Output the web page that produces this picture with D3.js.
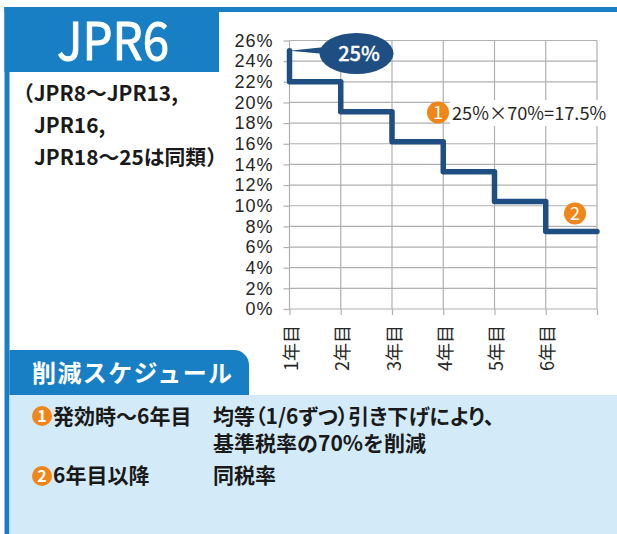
<!DOCTYPE html>
<html>
<head>
<meta charset="utf-8">
<script src="https://cdn.jsdelivr.net/npm/d3@7"></script>
<style>
body { margin: 0; background: #fff; }
svg { display: block; font-family: "Noto Sans CJK JP", sans-serif; }
</style>
</head>
<body>
<svg class="chart"></svg>
<script>
var yearLabels = ["1年目", "2年目", "3年目", "4年目", "5年目", "6年目", ""]
var startRate = 25
var yearRates = [22, 19.1, 16.2, 13.3, 10.4, 7.5]
var yTicks = [0, 2, 4, 6, 8, 10, 12, 14, 16, 18, 20, 22, 24, 26]
var subtitleLines = ["（JPR8～JPR13,", "JPR16,", "JPR18～25は同類）"]
var scheduleFirst = ["均等（1/6ずつ）引き下げにより、", "基準税率の70%を削減"]

var width = 617,
    height = 534,
    margin = { top: 40.5, right: 20, bottom: 225, left: 289.5 }
var blue = "#187FC4", navy = "#1F4E82", orange = "#F08519", pale = "#D3EBF9", grid = "#B0B0B0"

var svg = d3.select(".chart")
    .attr("width", width)
    .attr("height", height)

// frame and panels
svg.append("rect").attr("x", 4.5).attr("y", 7).attr("width", width - 4.5).attr("height", 5).attr("fill", blue)
svg.append("rect").attr("x", 4.5).attr("y", 7).attr("width", 5).attr("height", height - 7).attr("fill", blue)
svg.append("rect").attr("x", 4.5).attr("y", 7).attr("width", 214.5).attr("height", 65).attr("fill", blue)
svg.append("rect").attr("x", 9.5).attr("y", 395).attr("width", width - 9.5).attr("height", 139).attr("fill", pale)
svg.append("path").attr("d", "M9.5,395V350H234a15,15 0 0 1 15,15V395Z").attr("fill", blue)

svg.append("text").attr("x", 57).attr("y", 60)
    .attr("font-size", 52).attr("textLength", 112).attr("lengthAdjust", "spacingAndGlyphs")
    .attr("fill", "#fff").attr("stroke", "#fff").attr("stroke-width", 1).text("JPR6")

svg.append("g").selectAll("text").data(subtitleLines).join("text")
    .attr("x", (d, i) => i ? 34 : 13)
    .attr("y", (d, i) => 101 + i * 32)
    .attr("font-size", 20.8).attr("font-weight", 700).attr("fill", "#1a1a1a")
    .text(d => d)

// scales
var xScale = d3.scalePoint()
    .domain(d3.range(yearLabels.length))
    .range([margin.left, width - margin.right])
var yScale = d3.scaleLinear()
    .domain([0, 26])
    .range([height - margin.bottom, margin.top])

var yAxisCall = d3.axisLeft(yScale).tickValues(yTicks).tickFormat(d => d + "%")
    .tickSize(6).tickPadding(10)
var xAxisCall = d3.axisBottom(xScale).tickFormat(i => yearLabels[i]).tickSize(6)

var chart = svg.append("g")

chart.append("g").attr("class", "x grid").selectAll("line")
    .data(xScale.domain()).join("line")
    .attr("x1", d => xScale(d)).attr("x2", d => xScale(d))
    .attr("y1", yScale(26)).attr("y2", yScale(0))
    .attr("stroke", grid).attr("stroke-width", 1.2)

chart.append("g").attr("class", "y grid").selectAll("line")
    .data(yTicks).join("line")
    .attr("x1", xScale(0)).attr("x2", xScale(6))
    .attr("y1", d => yScale(d)).attr("y2", d => yScale(d))
    .attr("stroke", grid).attr("stroke-width", 1.2)

chart.append("g")
    .attr("transform", `translate(${margin.left},0)`)
    .call(yAxisCall)
    .call(g => g.select(".domain").remove())
    .call(g => g.selectAll("line").attr("stroke", grid).attr("stroke-width", 1.2))
    .call(g => g.selectAll("text").attr("font-family", "'Liberation Sans'").attr("font-size", 18)
        .attr("letter-spacing", 1).attr("fill", "#262626"))

chart.append("g")
    .attr("transform", `translate(0,${yScale(0)})`)
    .call(xAxisCall)
    .call(g => g.select(".domain").remove())
    .call(g => g.selectAll("line").attr("stroke", grid).attr("stroke-width", 1.2))
    .call(g => g.selectAll("text")
        .attr("font-family", "'Noto Sans CJK JP'").attr("font-size", 18).attr("fill", "#262626")
        .attr("text-anchor", "end").attr("dy", 0).attr("y", 0)
        .attr("transform", "translate(0,16) rotate(-90)")
        .attr("dominant-baseline", "central"))

// stepped rate line
var linePoints = [[0, startRate]]
yearRates.forEach((v, i) => {
    linePoints.push([i, v], [i + 1, v])
})
var line = d3.line().x(d => xScale(d[0])).y(d => yScale(d[1]))
chart.append("path")
    .attr("d", line(linePoints))
    .attr("fill", "none").attr("stroke", navy).attr("stroke-width", 5.5)
    .attr("stroke-linejoin", "round").attr("stroke-linecap", "round")

// callout at the starting rate
var tipX = xScale(0), tipY = yScale(startRate)
var callout = chart.append("g")
callout.append("ellipse").attr("cx", 356.5).attr("cy", 53.5).attr("rx", 37).attr("ry", 20.5).attr("fill", navy)
callout.append("path").attr("d", `M${tipX},${tipY}L325,47L325,54Z`).attr("fill", navy)
callout.append("text").attr("x", 359).attr("y", 61).attr("text-anchor", "middle")
    .attr("font-size", 20).attr("font-weight", 500).attr("stroke", "#fff").attr("stroke-width", 0.3)
    .attr("fill", "#fff").text(startRate + "%")

// numbered badges
function badge(x, y, r, label, size, weight) {
    var g = svg.append("g")
    g.append("circle").attr("cx", x).attr("cy", y).attr("r", r).attr("fill", orange)
    g.append("text").attr("x", x).attr("y", y + size * 0.36).attr("text-anchor", "middle")
        .attr("font-size", size).attr("font-weight", weight).attr("fill", "#fff").text(label)
}

svg.append("rect").attr("x", 450).attr("y", 100).attr("width", 160).attr("height", 26).attr("fill", "#fff")
badge(438, 112.5, 11, "1", 18, 400)
svg.append("text").attr("x", 452).attr("y", 119.5).attr("font-size", 18.2).attr("fill", "#262626").text("25%×70%=17.5%")
badge(575, 213.5, 11, "2", 18, 400)

// schedule panel
svg.append("text").attr("x", 32).attr("y", 382).attr("font-size", 24).attr("font-weight", 700)
    .attr("letter-spacing", 1.4).attr("fill", "#fff").text("削減スケジュール")

badge(42, 416, 10, "1", 16, 700)
badge(42, 476, 10, "2", 16, 700)

var panelText = svg.append("g")
    .attr("font-size", 21).attr("font-weight", 700).attr("fill", "#1a1a1a")
panelText.append("text").attr("x", 53).attr("y", 423.5).text("発効時～6年目")
panelText.append("text").attr("x", 53).attr("y", 482.5).text("6年目以降")
panelText.append("text").attr("y", 423.5)
    .selectAll("tspan").data(scheduleFirst).join("tspan")
    .attr("x", 213).attr("dy", (d, i) => i ? 27 : 0)
    .style("font-feature-settings", (d, i) => i ? null : "'palt'")
    .text(d => d)
panelText.append("text").attr("x", 213).attr("y", 482.5).text("同税率")
</script>
</body>
</html>
